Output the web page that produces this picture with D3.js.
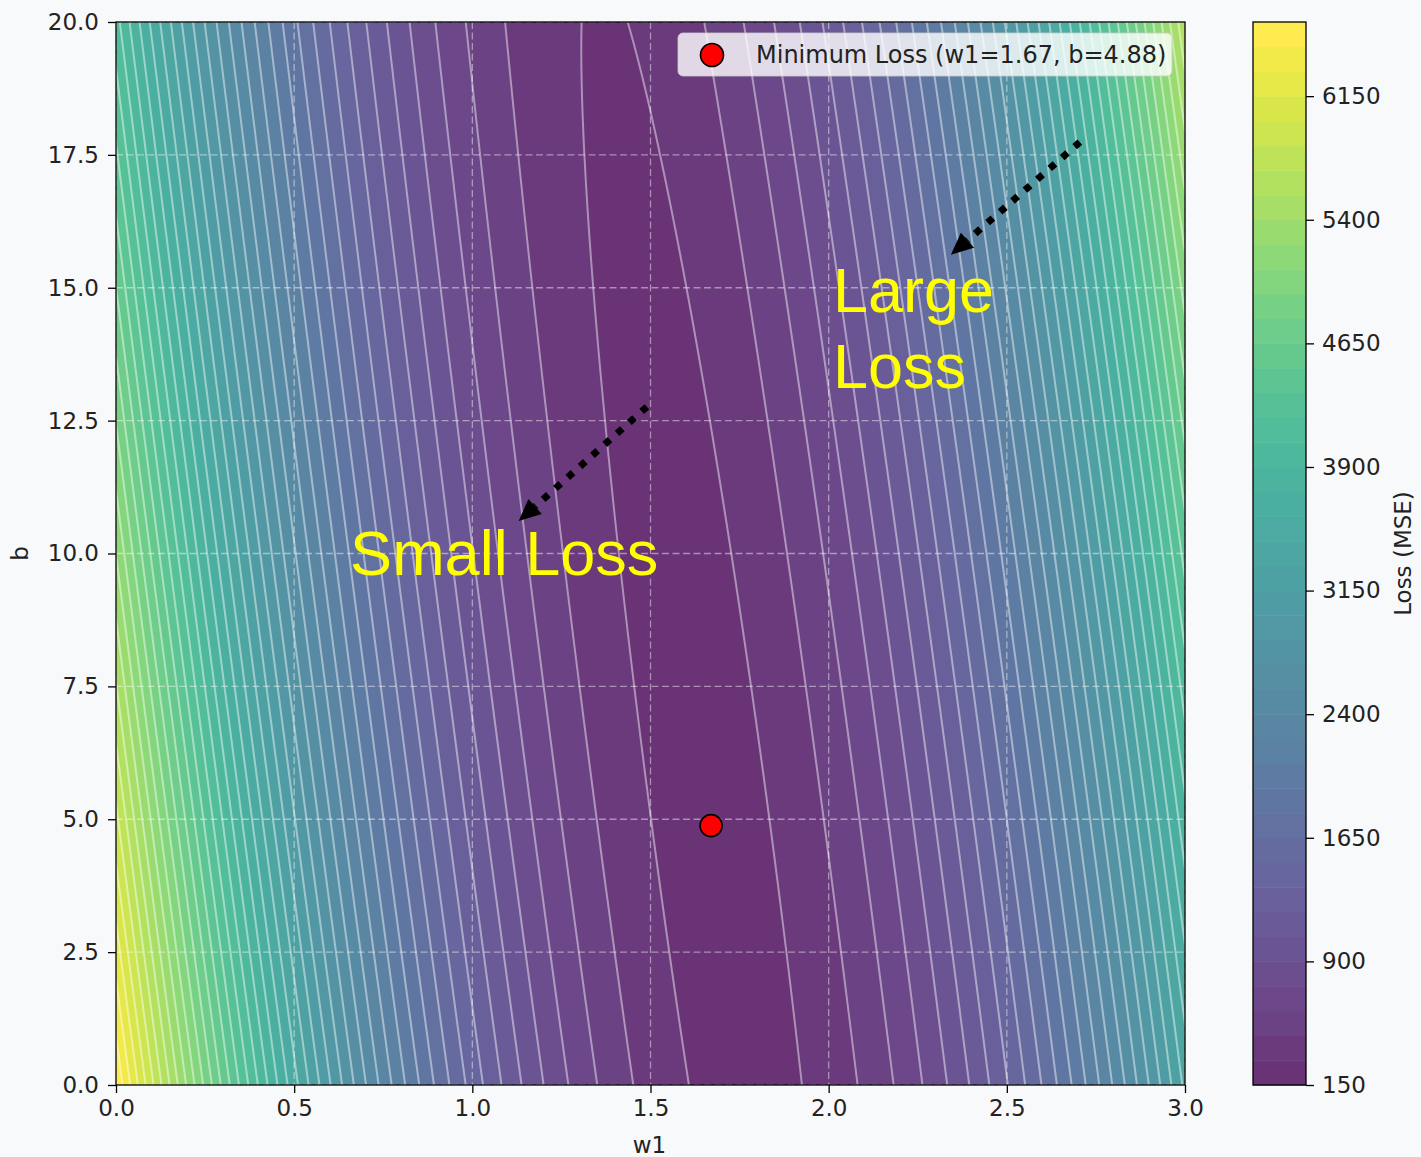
<!DOCTYPE html>
<html>
<head>
<meta charset="utf-8">
<script src="https://cdn.jsdelivr.net/npm/d3@7"></script>
<style>
  html, body { margin: 0; padding: 0; background: #f8f9fb; }
  svg { display: block; }
  text { font-family: "DejaVu Sans", sans-serif; fill: #222; }
</style>
</head>
<body>
<svg id="chart" width="1421" height="1157"></svg>
<script>
// ---- parameter space ----
const W1_DOMAIN = [0, 3];
const B_DOMAIN = [0, 20];
const W1_TICKS = [0, 0.5, 1.0, 1.5, 2.0, 2.5, 3.0];
const B_TICKS = [0, 2.5, 5.0, 7.5, 10.0, 12.5, 15.0, 17.5, 20.0];

// ---- MSE surface: loss(w1, b) = mean((y - w1*x - b)^2), written around its minimum ----
const W1_BEST = 1.67;
const B_BEST = 4.88;
const LOSS_AT_BEST = 244;
const X_MEAN = 40.1;       // mean of the inputs
const X_SQ_MEAN = 2030;    // mean of the squared inputs

// ---- contour levels and colour bar ----
const LEVEL_MIN = 150;
const LEVEL_MAX = 6600;
const LEVEL_STEP = 150;
const COLORBAR_TICKS = [150, 900, 1650, 2400, 3150, 3900, 4650, 5400, 6150];

// ---- annotations (data coordinates) ----
const NOTES = [
  { lines: ["Small Loss"], w1: 0.657, b: 9.6, tail: [1.49, 12.76], tip: [1.13, 10.61] },
  { lines: ["Large", "Loss"], w1: 2.012, b: 14.55, tail: [2.705, 17.74], tip: [2.343, 15.62] }
];
const LEGEND_LABEL = `Minimum Loss (w1=${W1_BEST.toFixed(2)}, b=${B_BEST.toFixed(2)})`;

function loss(w1, b) {
  const dw = w1 - W1_BEST, db = b - B_BEST;
  return X_SQ_MEAN * dw * dw + 2 * X_MEAN * dw * db + db * db + LOSS_AT_BEST;
}

// ---- layout ----
const svg = d3.select("#chart");
const PLOT = { left: 116, top: 22, width: 1069, height: 1063 };
const CBAR = { left: 1253, top: 22, width: 53, height: 1063 };
const FONT = 23;

const x = d3.scaleLinear().domain(W1_DOMAIN).range([0, PLOT.width]);
const y = d3.scaleLinear().domain(B_DOMAIN).range([PLOT.height, 0]);

const levels = d3.range(LEVEL_MIN, LEVEL_MAX + LEVEL_STEP / 2, LEVEL_STEP);
const nBands = levels.length - 1;
const bandColor = k => d3.interpolateViridis(k / (nBands - 1));

svg.append("rect").attr("width", 1421).attr("height", 1157).attr("fill", "#f8f9fb");

const defs = svg.append("defs");
defs.append("clipPath").attr("id", "plot-clip")
  .append("rect").attr("width", PLOT.width).attr("height", PLOT.height);

const plot = svg.append("g").attr("transform", `translate(${PLOT.left},${PLOT.top})`);
plot.append("rect").attr("width", PLOT.width).attr("height", PLOT.height).attr("fill", "#ffffff");

// ---- sample the loss surface on a pixel grid (slightly larger than the plot) ----
const STEP = 2, M = 6;
const nx = Math.ceil((PLOT.width + 2 * M) / STEP) + 1;
const ny = Math.ceil((PLOT.height + 2 * M) / STEP) + 1;
const values = new Float64Array(nx * ny);
for (let j = 0; j < ny; j++) {
  const bv = y.invert(-M + j * STEP);
  for (let i = 0; i < nx; i++) {
    values[j * nx + i] = loss(x.invert(-M + i * STEP), bv);
  }
}
const contours = d3.contours().size([nx, ny]).thresholds(levels)(values);
const toPx = d3.geoTransform({
  point(cx, cy) { this.stream.point(-M + (cx - 0.5) * STEP, -M + (cy - 0.5) * STEP); }
});
const path = d3.geoPath(toPx);

const clipped = plot.append("g").attr("clip-path", "url(#plot-clip)");

// filled bands
clipped.append("g").attr("opacity", 0.8)
  .selectAll("path").data(contours.slice(0, nBands)).join("path")
  .attr("d", path)
  .attr("fill", (d, k) => bandColor(k))
  .attr("stroke", (d, k) => bandColor(k))
  .attr("stroke-width", 0.5);

// contour lines
clipped.append("g")
  .selectAll("path").data(contours.slice(1, nBands)).join("path")
  .attr("d", path)
  .attr("fill", "none")
  .attr("stroke", "#ffffff")
  .attr("stroke-opacity", 0.45)
  .attr("stroke-width", 2);

// dashed grid
const grid = clipped.append("g").attr("stroke", "#ffffff").attr("stroke-opacity", 0.45)
  .attr("stroke-width", 1.3).attr("stroke-dasharray", "7,3.5");
grid.selectAll(".gx").data(W1_TICKS).join("line")
  .attr("x1", d => x(d)).attr("x2", d => x(d)).attr("y1", 0).attr("y2", PLOT.height);
grid.selectAll(".gy").data(B_TICKS).join("line")
  .attr("y1", d => y(d)).attr("y2", d => y(d)).attr("x1", 0).attr("x2", PLOT.width);

// annotations with dotted arrows
NOTES.forEach(n => {
  const x0 = x(n.tail[0]), y0 = y(n.tail[1]), x1 = x(n.tip[0]), y1 = y(n.tip[1]);
  const ang = Math.atan2(y1 - y0, x1 - x0);
  const headLen = 22, headHalf = 10;
  const bx = x1 - headLen * Math.cos(ang), by = y1 - headLen * Math.sin(ang);
  clipped.append("line")
    .attr("x1", x0).attr("y1", y0).attr("x2", bx).attr("y2", by)
    .attr("stroke", "#000").attr("stroke-width", 7)
    .attr("stroke-dasharray", "7,9.5").attr("stroke-linecap", "butt");
  const px = -Math.sin(ang), py = Math.cos(ang);
  clipped.append("path")
    .attr("d", `M${x1},${y1}L${bx + headHalf * px},${by + headHalf * py}L${bx - headHalf * px},${by - headHalf * py}Z`)
    .attr("fill", "#000");
  const t = clipped.append("text")
    .attr("x", x(n.w1)).attr("y", y(n.b))
    .style("font-family", "'Liberation Sans', Arial, sans-serif")
    .style("font-size", "63px").style("fill", "#ffff00");
  n.lines.forEach((ln, i) => {
    t.append("tspan").attr("x", x(n.w1)).attr("dy", i === 0 ? 0 : 76).text(ln);
  });
});

// minimum point
plot.append("circle")
  .attr("cx", x(W1_BEST)).attr("cy", y(B_BEST)).attr("r", 11)
  .attr("fill", "#ff0000").attr("stroke", "#000").attr("stroke-width", 1.6);

// legend
const leg = plot.append("g").attr("transform", `translate(${678 - PLOT.left},${33 - PLOT.top})`);
leg.append("rect").attr("width", 494).attr("height", 43).attr("rx", 5)
  .attr("fill", "#ffffff").attr("fill-opacity", 0.8)
  .attr("stroke", "#cccccc").attr("stroke-opacity", 0.8);
leg.append("circle").attr("cx", 34).attr("cy", 22).attr("r", 11.5)
  .attr("fill", "#ff0000").attr("stroke", "#000").attr("stroke-width", 1.6);
leg.append("text").attr("x", 78).attr("y", 22).attr("dy", "0.35em")
  .style("font-size", "24px").text(LEGEND_LABEL);

// spines
plot.append("rect").attr("width", PLOT.width).attr("height", PLOT.height)
  .attr("fill", "none").attr("stroke", "#000").attr("stroke-width", 1.3);

// axes
const fmt = d3.format(".1f");
const xAxis = plot.append("g").attr("transform", `translate(0,${PLOT.height})`)
  .call(d3.axisBottom(x).tickValues(W1_TICKS).tickFormat(fmt).tickSize(8).tickPadding(7));
const yAxis = plot.append("g")
  .call(d3.axisLeft(y).tickValues(B_TICKS).tickFormat(fmt).tickSize(8).tickPadding(9));
[xAxis, yAxis].forEach(a => {
  a.select(".domain").remove();
  a.selectAll(".tick line").attr("stroke", "#000").attr("stroke-width", 1.3);
  a.selectAll(".tick text").style("font-size", FONT + "px").style("font-family", "'DejaVu Sans', sans-serif").attr("fill", "#222");
});

svg.append("text").attr("x", PLOT.left + PLOT.width / 2 - 1).attr("y", 1153)
  .attr("text-anchor", "middle").style("font-size", FONT + "px").text("w1");
svg.append("text").attr("transform", `translate(28,${PLOT.top + PLOT.height / 2}) rotate(-90)`)
  .attr("text-anchor", "middle").style("font-size", FONT + "px").text("b");

// colour bar
const cy = d3.scaleLinear().domain([LEVEL_MIN, LEVEL_MAX]).range([CBAR.height, 0]);
const cbar = svg.append("g").attr("transform", `translate(${CBAR.left},${CBAR.top})`);
cbar.append("rect").attr("width", CBAR.width).attr("height", CBAR.height).attr("fill", "#fff");
cbar.append("g").attr("opacity", 0.8)
  .selectAll("rect").data(d3.range(nBands)).join("rect")
  .attr("x", 0).attr("width", CBAR.width)
  .attr("y", k => cy(levels[k + 1]))
  .attr("height", k => cy(levels[k]) - cy(levels[k + 1]) + 0.5)
  .attr("fill", k => bandColor(k));
cbar.append("rect").attr("width", CBAR.width).attr("height", CBAR.height)
  .attr("fill", "none").attr("stroke", "#000").attr("stroke-width", 1.3);
const cAxis = cbar.append("g").attr("transform", `translate(${CBAR.width},0)`)
  .call(d3.axisRight(cy).tickValues(COLORBAR_TICKS).tickFormat(d3.format("d")).tickSize(8).tickPadding(8));
cAxis.select(".domain").remove();
cAxis.selectAll(".tick line").attr("stroke", "#000").attr("stroke-width", 1.3);
cAxis.selectAll(".tick text").style("font-size", FONT + "px").attr("fill", "#222");

svg.append("text").attr("transform", `translate(1411,${CBAR.top + CBAR.height / 2}) rotate(-90)`)
  .attr("text-anchor", "middle").style("font-size", FONT + "px").text("Loss (MSE)");
</script>
</body>
</html>
